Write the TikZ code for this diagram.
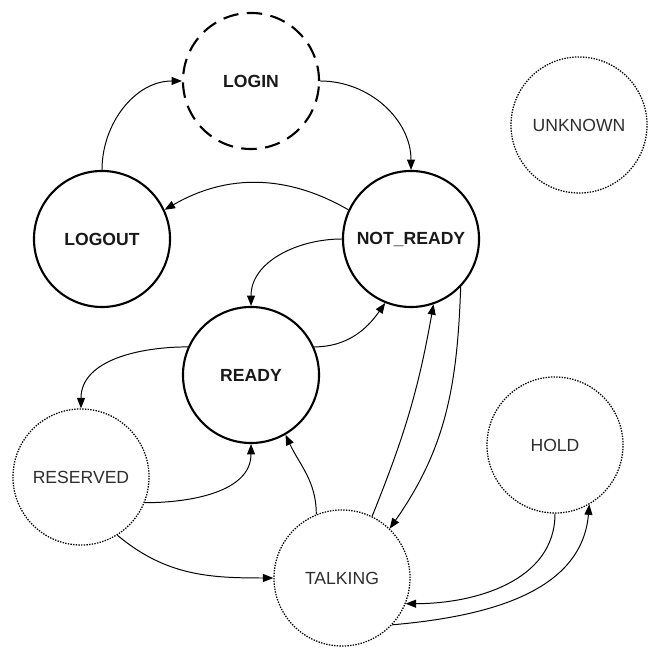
\documentclass[tikz,border=0pt]{standalone}
\usepackage{fontspec}
\setmainfont{Liberation Sans}
\usetikzlibrary{arrows.meta}

\begin{document}
\begin{tikzpicture}[x=0.025cm, y=0.025cm,
    solidst/.style={shape=circle, draw, line width=1.5pt, minimum size=3.4cm, inner sep=0pt,
        font=\fontsize{12.5}{15}\selectfont\bfseries, text=black!90},
    dashst/.style={solidst, dash pattern=on 11pt off 6pt},
    dotst/.style={shape=circle, draw, line width=0.9pt, dash pattern=on 1pt off 0.9pt,
        minimum size=3.4cm, inner sep=0pt, font=\fontsize{12.5}{15}\selectfont, text=black!82},
    arr/.style={-{Triangle[length=0.26cm,width=0.2cm]}, line width=0.7pt}]
    \path[use as bounding box, fill=white] (0,0) rectangle (648,648);

    \node[dashst] (login) at (251,567) {LOGIN};
    \node[dotst] (unknown) at (579,523) {UNKNOWN};
    \node[solidst] (logout) at (102,409) {LOGOUT};
    \node[solidst] (notready) at (411,409) {NOT\_READY};
    \node[solidst] (ready) at (251,273) {READY};
    \node[dotst] (reserved) at (81,171) {RESERVED};
    \node[dotst] (hold) at (555,203) {HOLD};
    \node[dotst] (talking) at (342,70) {TALKING};

    \draw[arr] (logout.north) to[out=90,in=180] (login.west);
    \draw[arr] (login.east) to[out=0,in=90] (notready.north);
    \draw[arr] (notready.155) to[out=150,in=30] (logout.25);
    \draw[arr] (notready.west) to[out=180,in=90] (ready.north);
    \draw[arr] (ready.24) to[out=0,in=235] (notready.248);

    % talking <-> not ready
    \draw[arr] (talking.64) to[out=68,in=260] (notready.289);
    \draw[arr] (notready.316) to[out=268,in=55] (talking.46);

    \draw[arr] (ready.156) to[out=180,in=90] (reserved.north);
    \draw[arr] (reserved.338) to[out=0,in=270] (ready.south);
    \draw[arr] (talking.112) to[out=90,in=295] (ready.300);
    \draw[arr] (reserved.302) to[out=-40,in=180] (talking.west);

    % hold
    \draw[arr] (hold.south) to[out=270,in=0] (talking.338);
    \draw[arr] (talking.317) to[out=5,in=265] (hold.300);
\end{tikzpicture}
\end{document}
